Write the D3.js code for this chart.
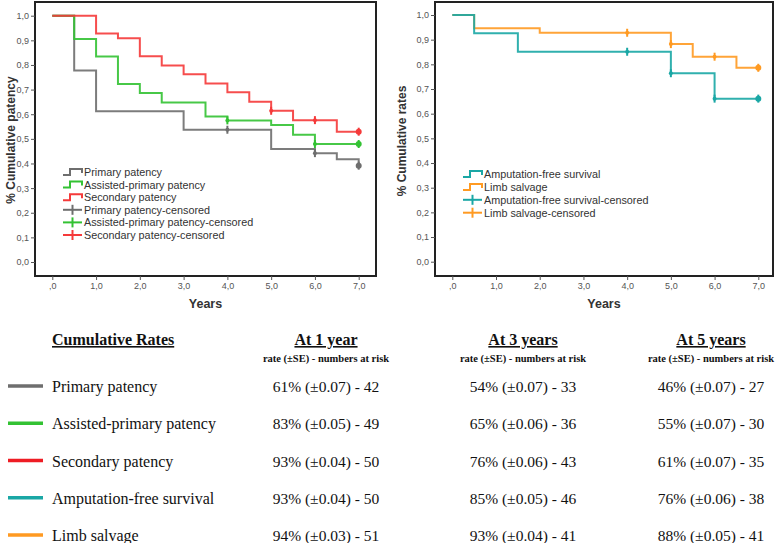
<!DOCTYPE html>
<html><head><meta charset="utf-8">
<script src="https://cdn.jsdelivr.net/npm/d3@7"></script>
<style>body{margin:0;background:#fff}svg{display:block}</style>
</head><body>
<svg id="c" width="777" height="543"></svg>
<script>
// ---------- data ----------
const xTicks = [0,1,2,3,4,5,6,7];
const xTickLabels = [",0","1,0","2,0","3,0","4,0","5,0","6,0","7,0"];
const yTicks = [0,0.1,0.2,0.3,0.4,0.5,0.6,0.7,0.8,0.9,1.0];
const yTickLabels = ["0,0","0,1","0,2","0,3","0,4","0,5","0,6","0,7","0,8","0,9","1,0"];

const primaryT = [0,0.5,1,3,5,6,6.5,7];
const primaryS = [1,0.778,0.612,0.537,0.459,0.442,0.417,0.391];
const primaryC = [4,6,7];

const assistedT = [0,0.5,1,1.5,2,2.5,3.5,4,5,5.5,6];
const assistedS = [1,0.905,0.834,0.723,0.686,0.648,0.591,0.575,0.556,0.517,0.479];
const assistedC = [4,6,7];

const secondaryT = [0,1,1.5,2,2.5,3,3.5,4,4.5,5,5.5,6.5];
const secondaryS = [1,0.928,0.908,0.835,0.798,0.762,0.725,0.689,0.651,0.614,0.576,0.529];
const secondaryC = [5,6,7];

const amputT = [0,0.5,1.5,5,6];
const amputS = [1,0.926,0.851,0.764,0.661];
const amputC = [4,5,6,7];

const limbT = [0,0.5,2,5,5.5,6.5];
const limbS = [1,0.946,0.928,0.882,0.831,0.786];
const limbC = [4,5,6,7];

const leftLegend = ["Primary patency","Assisted-primary patency","Secondary patency",
  "Primary patency-censored","Assisted-primary patency-censored","Secondary patency-censored"];
const rightLegend = ["Amputation-free survival","Limb salvage",
  "Amputation-free survival-censored","Limb salvage-censored"];

const tableRows = ["Primary patency","Assisted-primary patency","Secondary patency","Amputation-free survival","Limb salvage"];
const tableHeads = ["At 1 year","At 3 years","At 5 years"];
const at1 = ["61% (\u00b10.07) - 42","83% (\u00b10.05) - 49","93% (\u00b10.04) - 50","93% (\u00b10.04) - 50","94% (\u00b10.03) - 51"];
const at3 = ["54% (\u00b10.07) - 33","65% (\u00b10.06) - 36","76% (\u00b10.06) - 43","85% (\u00b10.05) - 46","93% (\u00b10.04) - 41"];
const at5 = ["46% (\u00b10.07) - 27","55% (\u00b10.07) - 30","61% (\u00b10.07) - 35","76% (\u00b10.06) - 38","88% (\u00b10.05) - 41"];

// ---------- styles ----------
const C = {gray:"#6e6e6e", green:"#33c233", red:"#f53a3a", teal:"#1aa7a5", orange:"#ff9a22"};
const svg = d3.select("#c");
const sans = "Liberation Sans, Arial, sans-serif";
const serif = "Liberation Serif, Times New Roman, serif";

function panel(cfg){
  const g = svg.append("g");
  const x = d3.scaleLinear().domain([0,7]).range(cfg.xr);
  const y = d3.scaleLinear().domain([0,1]).range(cfg.yr);
  // frame
  g.append("rect").attr("x",cfg.fx0).attr("y",cfg.fy0)
    .attr("width",cfg.fx1-cfg.fx0).attr("height",cfg.fy1-cfg.fy0)
    .attr("fill","none").attr("stroke","#222").attr("stroke-width",2);
  // y axis
  const ya = d3.axisLeft(y).tickValues(yTicks).tickSize(4).tickPadding(2)
    .tickFormat((d,i)=>yTickLabels[i]);
  const yg = g.append("g").attr("transform",`translate(${cfg.fx0},0)`).call(ya);
  // x axis
  const xa = d3.axisBottom(x).tickValues(xTicks).tickSize(4).tickPadding(3)
    .tickFormat((d,i)=>xTickLabels[i]);
  const xg = g.append("g").attr("transform",`translate(0,${cfg.fy1})`).call(xa);
  [yg,xg].forEach(a=>{
    a.select(".domain").remove();
    a.selectAll("line").attr("stroke","#555");
    a.selectAll("text").attr("font-family",sans).attr("font-size",9).attr("fill","#555");
  });
  g.append("text").attr("x",(cfg.fx0+cfg.fx1)/2).attr("y",308).attr("text-anchor","middle")
    .attr("font-family",sans).attr("font-weight","bold").attr("font-size",12.5).attr("fill","#333").text("Years");
  g.append("text").attr("transform",`translate(${cfg.ylx},${cfg.yly}) rotate(-90)`)
    .attr("text-anchor","middle").attr("font-family",sans).attr("font-weight","bold")
    .attr("font-size",12).attr("fill","#333").text(cfg.ylabel);

  const line = d3.line().x(d=>x(d[0])).y(d=>y(d[1])).curve(d3.curveStepAfter);
  cfg.series.forEach(s=>{
    const pts = s.t.map((t,i)=>[t,s.s[i]]);
    if (pts[pts.length-1][0] < 7) pts.push([7,s.s[s.s.length-1]]);
    g.append("path").attr("d",line(pts)).attr("fill","none")
      .attr("stroke",s.color).attr("stroke-width",2).attr("stroke-opacity",0.9);
  });
  cfg.series.forEach(s=>{
    s.c.forEach(ct=>{
      let v = s.s[0];
      s.t.forEach((t,i)=>{ if (t<=ct) v = s.s[i]; });
      const cx = x(ct), cy = y(v);
      g.append("line").attr("x1",cx).attr("x2",cx).attr("y1",cy-4).attr("y2",cy+4)
        .attr("stroke",s.color).attr("stroke-width",2);
      g.append("circle").attr("cx",cx).attr("cy",cy).attr("r",ct===7?3:2).attr("fill",s.color);
    });
  });
  // legend
  const lg = g.append("g");
  cfg.legend.forEach((lab,i)=>{
    const yy = cfg.ly0 + i*cfg.ldy;
    const col = cfg.legendColors[i];
    const x0 = cfg.lx0, x1 = cfg.lx0+19;
    if (i < cfg.nStep){
      lg.append("path").attr("d",`M${x0},${yy+3}H${x0+7}V${yy-3}H${x1}V${yy+1}`)
        .attr("fill","none").attr("stroke",col).attr("stroke-width",2);
    } else {
      lg.append("line").attr("x1",x0).attr("x2",x1).attr("y1",yy).attr("y2",yy)
        .attr("stroke",col).attr("stroke-width",2);
      lg.append("line").attr("x1",(x0+x1)/2).attr("x2",(x0+x1)/2).attr("y1",yy-5).attr("y2",yy+5)
        .attr("stroke",col).attr("stroke-width",2);
    }
    lg.append("text").attr("x",x1+2).attr("y",yy+4).attr("font-family",sans)
      .attr("font-size",10.8).attr("fill","#333").text(lab);
  });
}

panel({
  fx0:35, fx1:376, fy0:2, fy1:276, xr:[52.3,358.7], yr:[262,15.7],
  ylabel:"% Cumulative patency", ylx:15, yly:140,
  series:[
    {t:primaryT,s:primaryS,c:primaryC,color:C.gray},
    {t:assistedT,s:assistedS,c:assistedC,color:C.green},
    {t:secondaryT,s:secondaryS,c:secondaryC,color:C.red}],
  legend:leftLegend, legendColors:[C.gray,C.green,C.red,C.gray,C.green,C.red], nStep:3,
  lx0:63, ly0:172, ldy:12.6
});
panel({
  fx0:435, fx1:773, fy0:2, fy1:276, xr:[452.3,758.3], yr:[261.7,15],
  ylabel:"% Cumulative rates", ylx:406, yly:141,
  series:[
    {t:limbT,s:limbS,c:limbC,color:C.orange},
    {t:amputT,s:amputS,c:amputC,color:C.teal}],
  legend:rightLegend, legendColors:[C.teal,C.orange,C.teal,C.orange], nStep:2,
  lx0:463, ly0:174, ldy:12.9
});

// ---------- table ----------
const tg = svg.append("g");
const colX = [326,523,711];
const rowY = d3.scaleLinear().domain([0,4]).range([386,535]);
const rowColors = [C.gray,C.green,"#ee1c24",C.teal,C.orange];
tg.append("text").attr("x",52).attr("y",345).attr("font-family",serif).attr("font-weight","bold")
  .attr("font-size",16).attr("text-decoration","underline").attr("fill","#111").text("Cumulative Rates");
tableHeads.forEach((h,i)=>{
  tg.append("text").attr("x",colX[i]).attr("y",345).attr("text-anchor","middle")
    .attr("font-family",serif).attr("font-weight","bold").attr("font-size",16)
    .attr("text-decoration","underline").attr("fill","#111").text(h);
  tg.append("text").attr("x",colX[i]).attr("y",362).attr("text-anchor","middle")
    .attr("font-family",serif).attr("font-weight","bold").attr("font-size",10.5)
    .attr("fill","#111").text("rate (\u00b1SE) - numbers at risk");
});
const cols = [at1,at3,at5];
tableRows.forEach((r,i)=>{
  const yy = rowY(i);
  tg.append("line").attr("x1",8).attr("x2",43).attr("y1",yy).attr("y2",yy)
    .attr("stroke",rowColors[i]).attr("stroke-width",3.5);
  tg.append("text").attr("x",52).attr("y",yy+6).attr("font-family",serif).attr("font-size",16)
    .attr("fill","#111").text(r);
  cols.forEach((col,j)=>{
    tg.append("text").attr("x",colX[j]).attr("y",yy+6).attr("text-anchor","middle")
      .attr("font-family",serif).attr("font-size",15.5).attr("fill","#111").text(col[i]);
  });
});
</script>
</body></html>
